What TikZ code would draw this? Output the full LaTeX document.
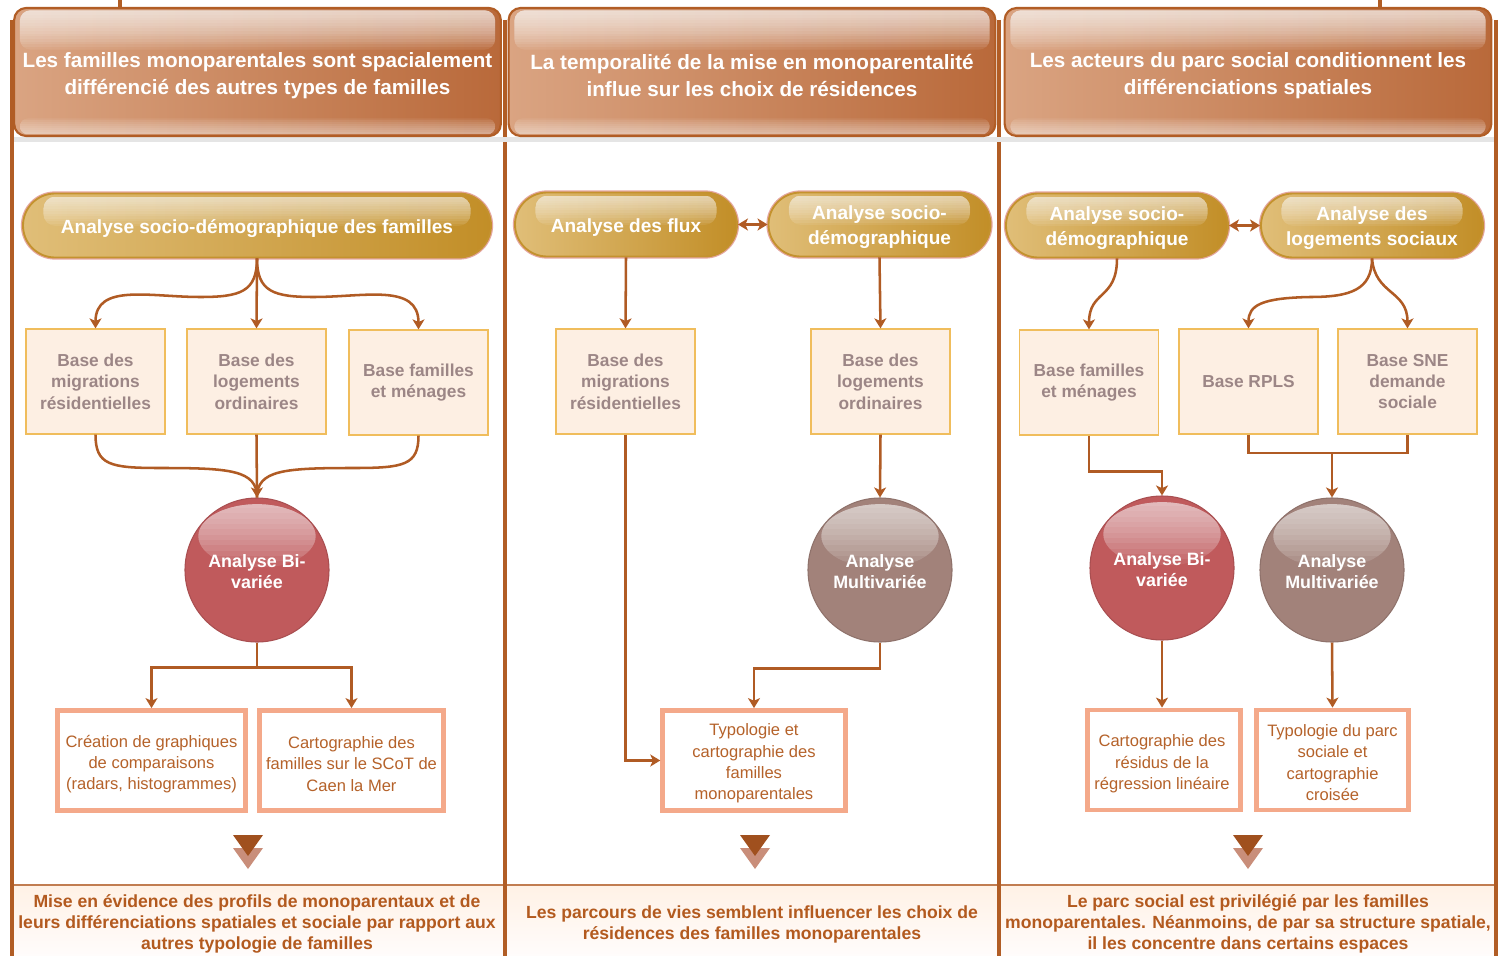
\documentclass[tikz,border=0pt]{standalone}
\usepackage{fontspec}
\setmainfont{Liberation Sans}
\usetikzlibrary{arrows.meta,calc}
\definecolor{brd}{HTML}{B15D25}
\definecolor{hdrL}{HTML}{DAA482}
\definecolor{hdrR}{HTML}{B9693A}
\definecolor{goldL}{HTML}{E0BE78}
\definecolor{goldR}{HTML}{C28E27}
\definecolor{goldB}{HTML}{C4922E}
\definecolor{pinkO}{HTML}{E5A7A0}
\definecolor{boxF}{HTML}{FDEFE3}
\definecolor{boxB}{HTML}{F0BD5C}
\definecolor{boxT}{HTML}{9C8686}
\definecolor{arrc}{HTML}{B05B24}
\definecolor{redC}{HTML}{C05A5C}
\definecolor{mauC}{HTML}{A2827A}
\definecolor{outB}{HTML}{F4A98A}
\definecolor{outT}{HTML}{B5622A}
\definecolor{botT}{HTML}{B35A1F}
\definecolor{triD}{HTML}{A0501E}
\definecolor{triL}{HTML}{C98E7A}
\newcommand\hdrgloss[1]{%
  \begin{scope}
    \clip[rounded corners=8pt] ($(#1.north west)+(5pt,-2.5pt)$) rectangle ($(#1.north east)+(-5pt,-32pt)$);
    \foreach \k in {1,...,15}
      \fill[white, fill opacity=0.08] ($(#1.north west)+(0,-2pt)$) rectangle ($(#1.north east)+(0,-2pt-2pt*\k)$);
  \end{scope}
  \begin{scope}
    \clip[rounded corners=6pt] ($(#1.south west)+(5pt,2pt)$) rectangle ($(#1.south east)+(-5pt,14pt)$);
    \foreach \k in {1,...,8}
      \fill[white, fill opacity=0.07] ($(#1.south west)+(0,2pt)$) rectangle ($(#1.south east)+(0,2pt+1.5pt*\k)$);
  \end{scope}}
\newcommand\pillgloss[1]{%
  \begin{scope}
    \clip[rounded corners=9pt] ($(#1.north west)+(16pt,-3pt)$) rectangle ($(#1.north east)+(-16pt,-25pt)$);
    \foreach \k in {1,...,12}
      \fill[white, fill opacity=0.075] ($(#1.north west)+(0,-3pt)$) rectangle ($(#1.north east)+(0,-3pt-1.85pt*\k)$);
  \end{scope}}
\newcommand\ballgloss[1]{%
  \begin{scope}
    \clip ($(#1.north)+(0,-29pt)$) ellipse [x radius=44pt, y radius=24pt];
    \foreach \k in {1,...,12}
      \fill[white, fill opacity=0.075] ($(#1.north)+(-50pt,-4pt)$) rectangle ($(#1.north)+(50pt,-4pt-4pt*\k)$);
  \end{scope}}
\begin{document}
\begin{tikzpicture}[x=0.75pt,y=-0.75pt,
  hdr/.style={draw=brd, line width=1.6pt, rounded corners=9pt, left color=hdrL, right color=hdrR,
    minimum width=365pt, minimum height=96pt},
  hdrtxt/.style={text=white, align=center, font=\fontsize{15.5}{20.3}\selectfont\bfseries},
  pill/.style={draw=goldB, line width=1.4pt, preaction={draw=pinkO, line width=3.2pt}, rounded corners=24pt,
    left color=goldL, right color=goldR, minimum height=48pt},
  pilltxt/.style={text=white, align=center, font=\fontsize{14.3}{18.75}\selectfont\bfseries},
  lbox/.style={draw=boxB, line width=1.2pt, fill=boxF, minimum width=104pt, minimum height=78.5pt,
    text=boxT, align=center, font=\fontsize{13}{16.1}\selectfont\bfseries},
  ball/.style={circle, minimum size=108pt, inner sep=0pt},
  redball/.style={ball, fill=redC, draw=redC!88!black, line width=0.8pt},
  mauball/.style={ball, fill=mauC, draw=mauC!88!black, line width=0.8pt},
  balltxt/.style={text=white, align=center, font=\fontsize{13.4}{15.75}\selectfont\bfseries},
  obox/.style={draw=outB, line width=3.6pt, fill=white, minimum height=75pt},
  otxt/.style={text=outT, align=center, font=\fontsize{12.4}{16}\selectfont},
  bot/.style={text=botT, align=center, font=\fontsize{13.2}{15.75}\selectfont\bfseries},
  con/.style={draw=arrc, line width=1.9pt},
  arw/.style={con, -{Stealth[length=7.5pt,width=9pt,inset=2pt]}},
  darw/.style={con, {Stealth[length=7.5pt,width=9pt,inset=2pt]}-{Stealth[length=7.5pt,width=9pt,inset=2pt]}},
  panel/.style={top color=pink!22!orange!12, bottom color=white!96!pink},
]
\useasboundingbox (0,0) rectangle (1504,956);
\fill[white] (0,0) rectangle (1504,956);

% bottom panels
\fill[panel] (12,885) rectangle (503,960);
\fill[panel] (505,885) rectangle (999,960);
\fill[panel] (999,885) rectangle (1496,960);
\draw[brd!80, line width=1.2pt] (12,885) -- (1496,885);

% small lines at top
\draw[brd, line width=3pt] (120,-2) -- (120,12);
\draw[brd, line width=3pt] (1380,-2) -- (1380,12);

% column borders
\foreach \xx in {12,505,999,1496} \draw[brd, line width=3.6pt] (\xx,20) -- (\xx,960);

% header shadow
\fill[black!10] (14,137) rectangle (1494,142);

% headers
\node[hdr] (h1) at (257.5,72) {};
\node[hdr] (h2) at (752,72) {};
\node[hdr] (h3) at (1248,72) {};
\hdrgloss{h1}\hdrgloss{h2}\hdrgloss{h3}
\node[hdrtxt] (h1t) at (257.5,75.5) {Les familles monoparentales sont spacialement\\différencié des autres types de familles};
\node[hdrtxt] (h2t) at (752,75.5) {La temporalité de la mise en monoparentalité\\influe sur les choix de résidences};
\node[hdrtxt] (h3t) at (1248,75.5) {Les acteurs du parc social conditionnent les\\différenciations spatiales};

% ===== column 1 =====
\node[pill, minimum width=351pt] (p1) at (257,225.5) {};
\pillgloss{p1}
\node[pilltxt] (p1t) at (257,228.5) {Analyse socio-démographique des familles};
\node[lbox] (b11) at (95.5,381.5) {Base des\\migrations\\résidentielles};
\node[lbox] (b12) at (256.5,381.5) {Base des\\logements\\ordinaires};
\node[lbox] (b13) at (418.5,382.5) {Base familles\\et ménages};
\node[redball] (c1) at (257,570) {};
\ballgloss{c1}
\node[balltxt] (c1t) at (257,572) {Analyse Bi-\\variée};
\node[obox, minimum width=141pt] (o11) at (151.5,760.5) {};
\node[otxt] (o11t) at (151.5,764) {Création de graphiques\\de comparaisons\\(radars, histogrammes)};
\node[obox, minimum width=138pt] (o12) at (351.5,760.5) {};
\node[otxt] (o12t) at (351.5,764) {Cartographie des\\familles sur le SCoT de\\Caen la Mer};

\draw[arw] (p1.south) .. controls (257,292) and (240,297) .. (200,297) .. controls (150,297) and (95.5,283) .. (b11.north);
\draw[arw] (p1.south) -- (b12.north);
\draw[arw] (p1.south) .. controls (257,292) and (274,297) .. (314,297) .. controls (364,297) and (418.5,283) .. (b13.north);
\draw[con] (b11.south) .. controls (95.5,465) and (110,468) .. (160,468) .. controls (230,468) and (257,470) .. (c1.north);
\draw[con] (b13.south) .. controls (418.5,465) and (404,468) .. (354,468) .. controls (284,468) and (257,470) .. (c1.north);
\draw[arw] (b12.south) -- (c1.north);
\draw[arw] (c1.south) -- ++(0,25) -| (o11.north);
\draw[arw] (c1.south) -- ++(0,25) -| (o12.north);

% ===== column 2 =====
\node[pill, minimum width=166.5pt] (p21) at (626,224.5) {};
\node[pill, minimum width=166.5pt] (p22) at (879.5,224.5) {};
\pillgloss{p21}\pillgloss{p22}
\node[pilltxt] (p21t) at (626,227.5) {Analyse des flux};
\node[pilltxt] (p22t) at (879.5,227.5) {Analyse socio-\\démographique};
\node[lbox] (b21) at (625.5,381.5) {Base des\\migrations\\résidentielles};
\node[lbox] (b22) at (880.5,381.5) {Base des\\logements\\ordinaires};
\node[mauball] (c2) at (880,570) {};
\ballgloss{c2}
\node[balltxt] (c2t) at (880,572) {Analyse\\Multivariée};
\node[obox, minimum width=137pt] (o2) at (754,760.5) {};
\node[otxt] (o2t) at (754,763.5) {Typologie et\\cartographie des\\familles\\monoparentales};

\draw[darw] (p21.east) -- (p22.west);
\draw[arw] (p21.south) -- (b21.north);
\draw[arw] (p22.south) -- (b22.north);
\draw[arw] (b22.south) -- (c2.north);
\draw[arw] (c2.south) -- ++(0,26) -| (o2.north);
\draw[arw] (b21.south) |- (o2.west);

% ===== column 3 =====
\node[pill, minimum width=166.5pt] (p31) at (1117,225.5) {};
\node[pill, minimum width=166.5pt] (p32) at (1372,225.5) {};
\pillgloss{p31}\pillgloss{p32}
\node[pilltxt] (p31t) at (1117,228) {Analyse socio-\\démographique};
\node[pilltxt] (p32t) at (1372,228) {Analyse des\\logements sociaux};
\node[lbox] (b31) at (1089,382.5) {Base familles\\et ménages};
\node[lbox] (b32) at (1248.5,381.5) {Base RPLS};
\node[lbox] (b33) at (1407.5,381.5) {Base SNE\\demande\\sociale};
\node[redball] (c31) at (1162,568) {};
\node[mauball] (c32) at (1332,570) {};
\ballgloss{c31}\ballgloss{c32}
\node[balltxt] (c31t) at (1162,570) {Analyse Bi-\\variée};
\node[balltxt] (c32t) at (1332,572) {Analyse\\Multivariée};
\node[obox, minimum width=114.75pt] (o31) at (1164,760) {};
\node[otxt] (o31t) at (1162,764) {Cartographie des\\résidus de la\\régression linéaire};
\node[obox, minimum width=114pt] (o32) at (1332.5,760) {};
\node[otxt] (o32t) at (1332.5,762.5) {Typologie du parc\\sociale et\\cartographie\\croisée};
\coordinate (j3) at (1332,453);

\draw[darw] (p31.east) -- (p32.west);
\draw[arw] (p31.south) .. controls (1117,300) and (1089,290) .. (b31.north);
\draw[arw] (p32.south) .. controls (1372,290) and (1350,297) .. (1310,297) .. controls (1262,298) and (1248.5,305) .. (b32.north);
\draw[arw] (p32.south) .. controls (1375,295) and (1407.5,290) .. (b33.north);
\draw[arw] (b31.south) -- ++(0,36) -| (c31.north);
\draw[con] (b32.south) |- (j3) -| (b33.south);
\draw[arw] (j3) -- (c32.north);
\draw[arw] (c31.south) -- (c31.south |- o31.north);
\draw[arw] (c32.south) -- (o32.north);

% ===== triangles =====
\foreach \tx in {248,755,1248} {
  \fill[triL] (\tx-15,848) -- (\tx+15,848) -- (\tx,869) -- cycle;
  \fill[triD] (\tx-15,835) -- (\tx+15,835) -- (\tx,856) -- cycle;
}

% ===== bottom texts =====
\node[bot] (t1) at (257,924) {Mise en évidence des profils de monoparentaux  et de\\leurs différenciations spatiales et sociale par rapport aux\\autres typologie de familles};
\node[bot] (t2) at (752,924.5) {Les parcours de vies semblent influencer les choix de\\résidences des familles monoparentales};
\node[bot] (t3) at (1248,924) {Le parc social est privilégié par les familles\\monoparentales. Néanmoins, de par sa structure spatiale,\\il les concentre dans certains espaces};
\end{tikzpicture}
\end{document}
